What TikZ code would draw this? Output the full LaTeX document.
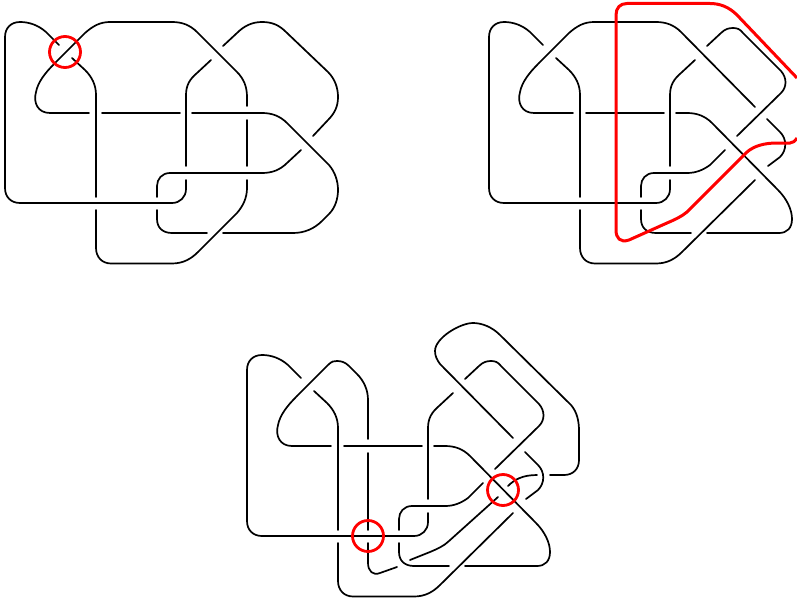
\documentclass[tikz,border=0pt]{standalone}
\tikzset{
  strand/.style={draw=black, line width=1.7pt, line cap=round},
  redpath/.style={draw=red, line width=3pt},
  redring/.style={circle, draw=red, line width=2.8pt, minimum size=31pt, inner sep=0pt}
}
\newcommand{\knotcommon}{
\draw[strand] (59,45) -- (46,32) .. controls (38,25) and (29,22) .. (20,22) .. controls (11,22) and (5,28) .. (5,37) -- (5,188) .. controls (5,197) and (11,203) .. (20,203) -- (172,203) .. controls (180,203) and (186,197) .. (186,189) -- (186,180);
\draw[strand] (186,166) -- (186,95) .. controls (186,85) and (190,79) .. (197,73) -- (211,60);
\draw[strand] (180,113) -- (102,113);
\draw[strand] (72,58) -- (85,70) .. controls (92,77) and (96,85) .. (96,95) -- (96,197);
\draw[strand] (96,210) -- (96,248) .. controls (96,257) and (102,263.5) .. (111,263.5) -- (172,263.5) .. controls (183,263.5) and (191,259) .. (198,252);
\draw[strand] (157,210) -- (157,219) .. controls (157,228) and (163,233) .. (172,233) -- (207,233);
\draw[strand] (89,113) -- (50,113) .. controls (38,113) and (33,103) .. (36,92) .. controls (38,82) and (45,73) .. (55,63);
}
\newcommand{\knotright}{
\draw[strand] (223,46) -- (237,33) .. controls (241,29) and (245,28) .. (249,28) .. controls (253,28) and (256,29) .. (259,33) -- (297,71) .. controls (303,78) and (303,87) .. (297,93) -- (253,136);
\draw[strand] (283,119) -- (296,132) .. controls (303,139) and (303,150) .. (296,157) -- (284,166);
\draw[strand] (271,180) -- (198,252);
\draw[strand] (192,113) -- (203,113) .. controls (213,113) and (221,116) .. (228,123) -- (294,190) .. controls (303,199) and (308,210) .. (308,219) .. controls (308,228) and (303,233) .. (295,233) -- (223,233);
\draw[strand] (241,150) -- (226,165) .. controls (219,170) and (212,173) .. (203,173) -- (170,173) .. controls (162,173) and (157,179) .. (157,186) -- (157,197);
}
\begin{document}
\begin{tikzpicture}[x=1pt,y=-1pt]
\useasboundingbox (0,0) rectangle (797,599);
% top left
\begin{scope}
\knotcommon
\draw[strand] (55,63) -- (85,33) .. controls (93,26) and (100,22) .. (110,22) -- (172,22) .. controls (182,22) and (190,25) .. (197,32) -- (237,72) .. controls (244,79) and (247,87) .. (247,97) -- (247,106);
\draw[strand] (247,120) -- (247,166);
\draw[strand] (247,180) -- (247,188) .. controls (247,198) and (243,206) .. (237,213) -- (198,252);
\draw[strand] (223,46) -- (237,33) .. controls (244,26) and (252,22) .. (262,22) .. controls (272,22) and (279,25) .. (286,32) -- (328,72) .. controls (335,79) and (338,88) .. (338,97) .. controls (338,106) and (335,113) .. (328,120) -- (313,136);
\draw[strand] (301,150) -- (287,163) .. controls (280,170) and (272,173) .. (262,173) -- (170,173) .. controls (162,173) and (157,179) .. (157,186) -- (157,197);
\draw[strand] (223,233) -- (293,233) .. controls (304,233) and (314,229) .. (322,221) -- (329,214) .. controls (335,208) and (338,199) .. (338,190) .. controls (338,181) and (335,172) .. (329,165) -- (287,123) .. controls (280,116) and (272,113) .. (262,113) -- (192,113);
\node[redring] (ringtop) at (65,52) {};
\end{scope}
% top right
\begin{scope}[shift={(484,0)}]
\knotcommon
\knotright
\draw[strand] (55,63) -- (85,33) .. controls (93,26) and (100,22) .. (110,22) -- (172,22) .. controls (182,22) and (190,25) .. (197,32) -- (271,107);
\draw[redpath] (313,78) -- (253,15) .. controls (245,7) and (236,3.5) .. (226,3.5) -- (143,3.5) .. controls (136,3.5) and (132,8) .. (132,15) -- (132,230) .. controls (132,238) and (136,243) .. (145,240) -- (183,223) .. controls (190,220) and (197,217) .. (203,212) -- (263,152) .. controls (270,146) and (280,143) .. (293,143) -- (306,143) .. controls (309,143) and (311,141) .. (313,138);
\end{scope}
% bottom
\begin{scope}[shift={(242,333)}]
\knotcommon
\knotright
\draw[strand] (55,63) -- (86,32) .. controls (90,28) and (92,28) .. (95,28) .. controls (99,28) and (103,29) .. (107,33) -- (115,41) .. controls (122,48) and (126,57) .. (126,67) -- (126,106);
\draw[strand] (126,120) -- (126,197);
\draw[strand] (126,210) -- (126,230) .. controls (126,238) and (131,243) .. (138,240) -- (155,234);
\draw[strand] (168,227) -- (188,219) .. controls (195,216) and (202,213) .. (207,208) -- (256,164);
\draw[strand] (266,153) .. controls (272,147) and (280,142) .. (295,142);
\draw[strand] (308,142) -- (322,142) .. controls (331,142) and (337,136) .. (337,127) -- (337,98) .. controls (337,88) and (335,79) .. (329,72) -- (258,2) .. controls (250,-6) and (240,-10) .. (231,-10) .. controls (218,-10) and (193,5) .. (193,18) .. controls (193,23) and (195,27) .. (198,31) -- (271,105);
\node[redring] (ringright) at (261,157) {};
\node[redring] (ringleft) at (126,203) {};
\end{scope}
\end{tikzpicture}
\end{document}
